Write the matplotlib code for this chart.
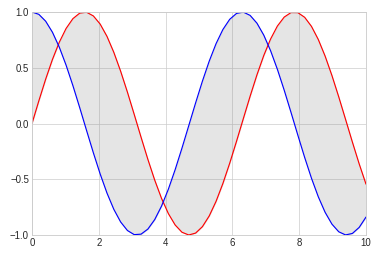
import numpy as np
import matplotlib
matplotlib.use("Agg")
import matplotlib.pyplot as plt

# 50 evenly spaced samples over [0, 10]
x = np.linspace(0, 10, 50)

sin_vals = [0.0000, 0.2027, 0.3970, 0.5747, 0.7286, 0.8523, 0.9406, 0.9899, 0.9981, 0.9649,
            0.8916, 0.7813, 0.6385, 0.4693, 0.2807, 0.0803, -0.1234, -0.3220, -0.5072, -0.6713,
            -0.8076, -0.9103, -0.9753, -0.9998, -0.9828, -0.9251, -0.8289, -0.6983, -0.5387, -0.3568,
            -0.1601, 0.0433, 0.2449, 0.4363, 0.6096, 0.7576, 0.8742, 0.9545, 0.9951, 0.9945,
            0.9526, 0.8711, 0.7535, 0.6046, 0.4306, 0.2388, 0.0370, -0.1662, -0.3626, -0.5440]

cos_vals = [1.0000, 0.9792, 0.9178, 0.8183, 0.6849, 0.5230, 0.3394, 0.1417, -0.0619, -0.2628,
            -0.4529, -0.6242, -0.7696, -0.8830, -0.9598, -0.9968, -0.9924, -0.9468, -0.8619, -0.7412,
            -0.5898, -0.4139, -0.2208, -0.0185, 0.1845, 0.3798, 0.5594, 0.7158, 0.8425, 0.9342,
            0.9871, 0.9991, 0.9696, 0.8998, 0.7927, 0.6527, 0.4856, 0.2984, 0.0987, -0.1050,
            -0.3044, -0.4911, -0.6574, -0.7965, -0.9025, -0.9711, -0.9993, -0.9861, -0.9319, -0.8391]

y_ticks = [-1.0, -0.5, 0.0, 0.5, 1.0]

plt.style.use("seaborn-v0_8-whitegrid")
plt.rcParams["font.family"] = ["Liberation Sans", "DejaVu Sans"]
plt.rcParams["xtick.labelsize"] = 11
plt.rcParams["ytick.labelsize"] = 11

fig = plt.figure(figsize=(6, 256 / 63), dpi=63)
ax = fig.add_axes([32 / 378, 21 / 256, 334 / 378, 223 / 256])

ax.plot(x, sin_vals, color="r", lw=1.3)
ax.plot(x, cos_vals, color="b", lw=1.3)
ax.fill_between(x, sin_vals, cos_vals, color="gray", alpha=0.2)

ax.set_xlim(0, 10)
ax.set_ylim(-1, 1)
ax.set_yticks(y_ticks)

fig.savefig("out.png", dpi=63)
